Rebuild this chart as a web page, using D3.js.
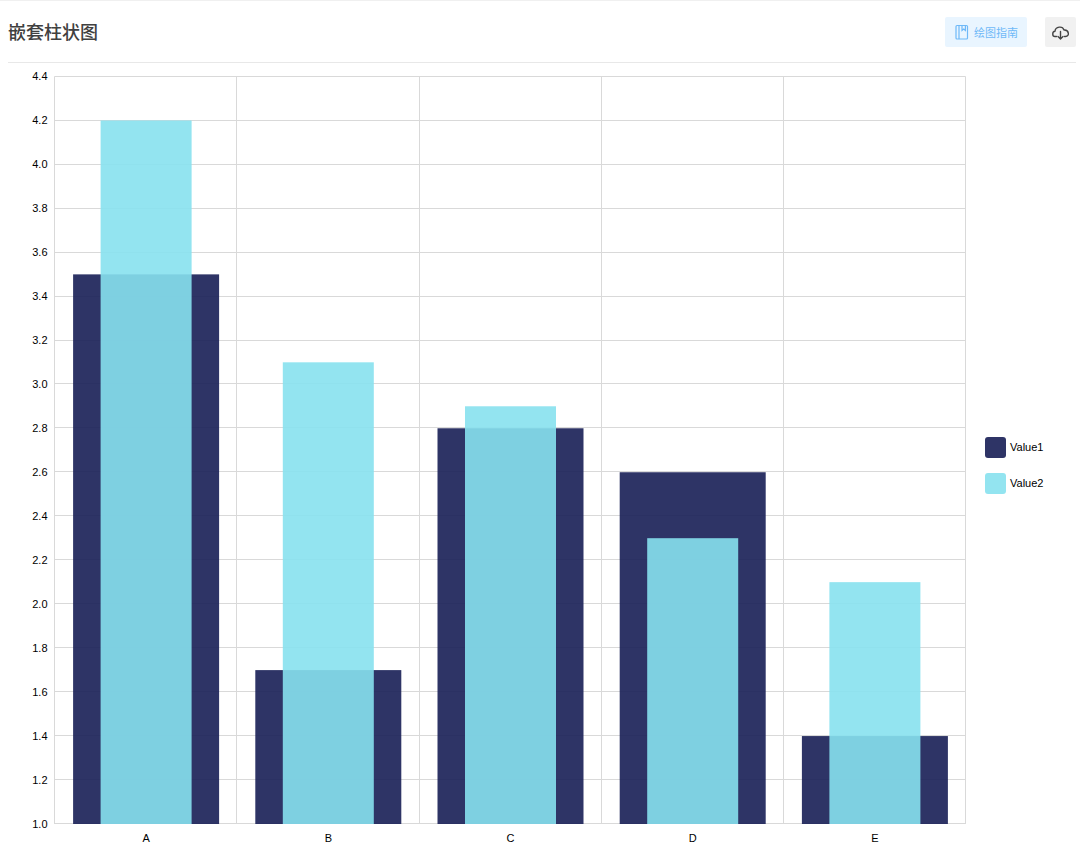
<!DOCTYPE html>
<html><head><meta charset="utf-8">
<script src="https://cdnjs.cloudflare.com/ajax/libs/d3/7.8.5/d3.min.js"></script>
<style>
html,body{margin:0;padding:0;background:#fff}
svg{display:block}
text{font-family:"Liberation Sans",Arial,sans-serif}
</style></head><body><svg id="c" width="1080" height="858"></svg>
<script>
const categories=["A","B","C","D","E"];
const value1=[3.5,1.7,2.8,2.6,1.4];
const value2=[4.2,3.1,2.9,2.3,2.1];
const yTicks=[1.0,1.2,1.4,1.6,1.8,2.0,2.2,2.4,2.6,2.8,3.0,3.2,3.4,3.6,3.8,4.0,4.2,4.4];
const seriesNames=["Value1","Value2"];
const colors=["#171e55","#87e1ee"];
const barOpacity=0.9;

const svg=d3.select("#c");
const plotL=55,plotR=966,plotT=76.5,plotB=824;
const cjk='"Noto Sans CJK SC","Liberation Sans",sans-serif';

svg.append("rect").attr("x",0).attr("y",0).attr("width",1080).attr("height",1).attr("fill","#f0f0f0");
svg.append("text").attr("x",8).attr("y",38.5).attr("font-size",18).attr("font-weight",500)
  .attr("fill","#404040").style("font-family",cjk).text("嵌套柱状图");
svg.append("rect").attr("x",8).attr("y",62).attr("width",1068).attr("height",1).attr("fill","#e8e8e8");

// toolbar buttons
svg.append("rect").attr("x",945).attr("y",17).attr("width",82).attr("height",30).attr("rx",2).attr("fill","#e9f5ff");
const g1=svg.append("g").attr("fill","none").attr("stroke","#6fb9f8").attr("stroke-width",1.2);
g1.append("rect").attr("x",956).attr("y",25.5).attr("width",11.5).attr("height",13.5).attr("rx",1);
g1.append("path").attr("d","M959 25.5V39M962 25.5V30.5L963.7 29L965.4 30.5V25.5");
svg.append("text").attr("x",974).attr("y",36.5).attr("font-size",11).attr("fill","#6fb9f8")
  .style("font-family",cjk).text("绘图指南");
svg.append("rect").attr("x",1045).attr("y",17).attr("width",31).attr("height",30).attr("rx",2).attr("fill","#f1f1f1");
const g2=svg.append("g").attr("fill","none").attr("stroke","#444").attr("stroke-width",1.4)
  .attr("stroke-linecap","round").attr("stroke-linejoin","round");
g2.append("path").attr("d","M1056.5 36.5H1055C1052 36.5 1052 31.5 1055 31.2C1055.5 26.5 1062.5 25.5 1064 30C1069 29.5 1070 36.5 1065.5 36.5H1064.5");
g2.append("path").attr("d","M1060.5 31.5V38.5M1058 36.5L1060.5 39L1063 36.5");

const yLo=yTicks[0],yHi=yTicks[yTicks.length-1];
const y=d3.scaleLinear().domain([yLo,yHi]).range([plotB,plotT]);
const x=d3.scaleBand().domain(categories).range([plotL,plotR]);
const wide=146/x.bandwidth(), narrow=91/x.bandwidth();

// grid
const grid=svg.append("g").attr("stroke","#d9d9d9").attr("stroke-width",1).attr("fill","none");
const snapY=v=>Math.round(v-.5)+.5;
const snapX=v=>Math.floor(v+.1)+.5;
yTicks.forEach(t=>grid.append("line").attr("x1",plotL-.5).attr("x2",plotR-.5).attr("y1",snapY(y(t)-.3)).attr("y2",snapY(y(t)-.3)));
[...categories.map(c=>x(c)),plotR].forEach(px=>grid.append("line").attr("x1",snapX(px-.5)).attr("x2",snapX(px-.5)).attr("y1",plotT).attr("y2",plotB));

// bars
const bars=(vals,frac,color)=>svg.append("g").selectAll("rect").data(vals).join("rect")
  .attr("x",(d,i)=>x(categories[i])+x.bandwidth()*(1-frac)/2)
  .attr("width",x.bandwidth()*frac)
  .attr("y",d=>y(d)).attr("height",d=>y(yLo)-y(d))
  .attr("fill",color).attr("fill-opacity",barOpacity);
bars(value1,wide,colors[0]);
bars(value2,narrow,colors[1]);

// axes labels via d3 axes
const ya=d3.axisLeft(y).tickValues(yTicks).tickFormat(d3.format(".1f")).tickSize(0).tickPadding(7);
const yg=svg.append("g").attr("transform",`translate(${plotL-.5},-0.5)`).call(ya);
const xa=d3.axisBottom(x).tickSize(0).tickPadding(10);
const xg=svg.append("g").attr("transform",`translate(0,${plotB})`).call(xa);
[yg,xg].forEach(g=>{g.select(".domain").remove();g.selectAll("text").attr("font-size",11).attr("fill","#000").style("font-family",'"Liberation Sans",Arial,sans-serif');});

// legend
const leg=svg.append("g").selectAll("g").data(seriesNames).join("g").attr("transform",(d,i)=>`translate(985,${437+i*36})`);
leg.append("rect").attr("width",21).attr("height",21).attr("rx",3).attr("fill",(d,i)=>colors[i]).attr("fill-opacity",barOpacity);
leg.append("text").attr("x",25).attr("y",14).attr("font-size",11).attr("fill","#000").text(d=>d);
</script></body></html>
